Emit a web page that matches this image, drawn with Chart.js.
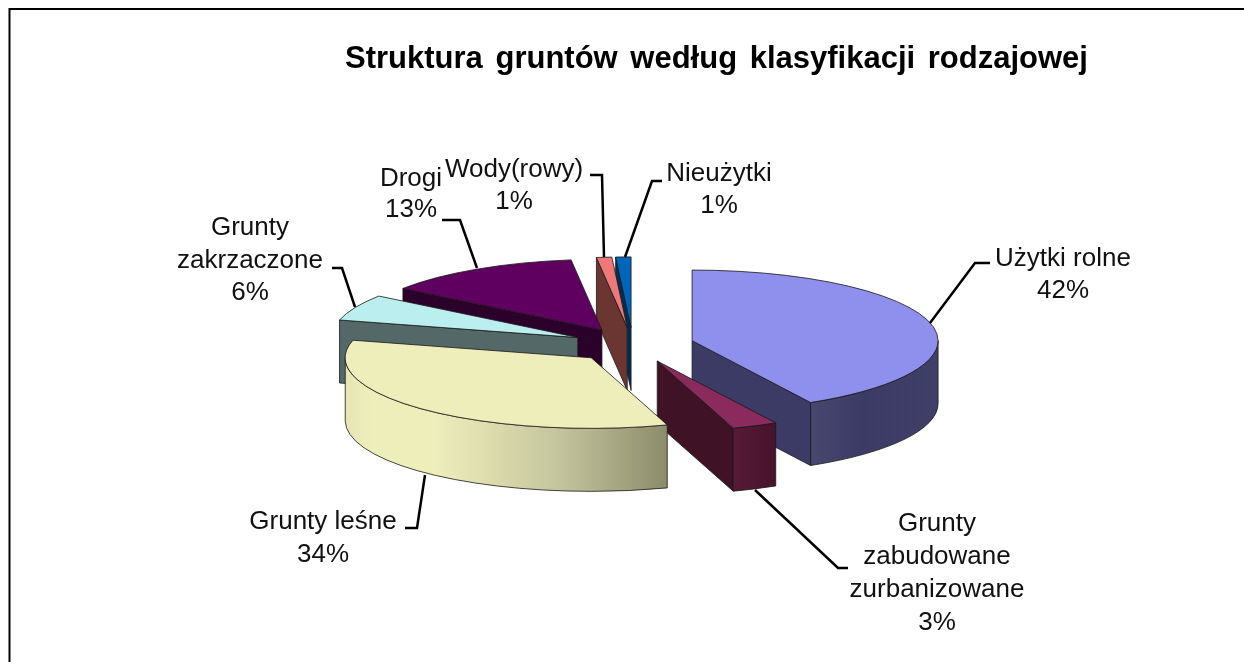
<!DOCTYPE html>
<html><head><meta charset="utf-8">
<style>html,body{margin:0;padding:0;background:#fff}canvas{display:block}</style>
<script src="https://cdn.jsdelivr.net/npm/chart.js@4"></script>
</head><body><canvas id="c" width="1244" height="662"></canvas>
<script>
const titleText = "Struktura gruntów według klasyfikacji rodzajowej";
const categories = ["Użytki rolne","Grunty zabudowane zurbanizowane","Grunty leśne","Grunty zakrzaczone","Drogi","Wody(rowy)","Nieużytki"];
const shares = [42,3,34,6,13,1,1];
const labelLines = [["Użytki rolne"],["Grunty","zabudowane","zurbanizowane"],["Grunty leśne"],["Grunty","zakrzaczone"],["Drogi"],["Wody(rowy)"],["Nieużytki"]];
const topColors = ["#8f8fee","#8b2a5c","#eeeebb","#bbeeee","#5f0060","#ee7777","#0066bb"];
const wallColors = ["#3b3b66","#3f1325","#8c8c6c","#556868","#2b002b","#6b3632","#002f55"];
const rimStops = {
  0:[[0,"#47476f"],[.4,"#3b3b66"],[1,"#3f3f68"]],
  1:[[0,"#581a38"],[1,"#47132b"]],
  2:[[0,"#e6e5b5"],[.08,"#eeeebb"],[.28,"#eeeebb"],[.65,"#c6c69e"],[1,"#8c8c6c"]]
};
const paintOrder = [6,5,4,3,0,1,2];
const tilt = 0.287, explode = 61, depth = 63;
const labelLayout = [
  {x:1063,y:266,pitch:32,line:[[990,263],[975,263],[930,323]]},
  {x:937,y:531,pitch:33,line:[[755,490],[838,568],[848,568]]},
  {x:323,y:529,pitch:33,line:[[405,528],[417,528],[425,475]]},
  {x:250,y:235,pitch:32.5,line:[[332,268],[342,268],[355,307]]},
  {x:411,y:186,pitch:31,line:[[442,220],[460,220],[477,268]]},
  {x:514,y:177,pitch:32,line:[[590,175],[602,175],[604,257]]},
  {x:719,y:181,pitch:32,line:[[662,181],[652,181],[625,257]]}
];

const pie3d = {
  id:"pie3d",
  beforeDatasetDraw(chart,args){
    const ctx = chart.ctx, arcs = args.meta.data;
    paintOrder.forEach(i=>{
      const arc = arcs[i], s = arc.startAngle, e = arc.endAngle, r = arc.outerRadius;
      const mid = (s+e)/2;
      const ox = arc.x + explode*Math.cos(mid), oy = arc.y + explode*Math.sin(mid)*tilt;
      const P = a=>[ox+r*Math.cos(a), oy+r*tilt*Math.sin(a)];
      const quad = a=>{
        const p = P(a);
        ctx.beginPath();ctx.moveTo(ox,oy);ctx.lineTo(p[0],p[1]);ctx.lineTo(p[0],p[1]+depth);ctx.lineTo(ox,oy+depth);ctx.closePath();
        ctx.fillStyle = wallColors[i];ctx.fill();ctx.stroke();
      };
      ctx.save();
      ctx.lineWidth = 1;ctx.strokeStyle = "rgba(25,25,25,.8)";
      // cut faces turned toward the viewer
      const th = a=>a+Math.PI/2;
      if (Math.sin(th(s))<0) quad(s);
      if (Math.sin(th(e))>0) quad(e);
      // outer rim
      const a1 = Math.max(s,0), a2 = Math.min(e,Math.PI);
      if (a1<a2){
        const xs=[P(a1)[0],P(a2)[0]];
        if (a1<=0) xs.push(ox+r);
        const g = ctx.createLinearGradient(Math.min(...xs),0,Math.max(...xs),0);
        const stops = rimStops[i]||[[0,wallColors[i]],[1,wallColors[i]]];
        stops.forEach(st=>g.addColorStop(st[0],st[1]));
        ctx.beginPath();
        ctx.ellipse(ox,oy,r,r*tilt,0,a1,a2);
        ctx.ellipse(ox,oy+depth,r,r*tilt,0,a2,a1,true);
        ctx.closePath();ctx.fillStyle=g;ctx.fill();ctx.stroke();
      }
      // top face: the library's own arc, squashed and moved out
      ctx.save();
      ctx.translate(ox,oy);ctx.scale(1,tilt);ctx.translate(-arc.x,-arc.y);
      arc.draw(ctx);
      ctx.restore();
      ctx.beginPath();ctx.moveTo(ox,oy);ctx.ellipse(ox,oy,r,r*tilt,0,s,e);ctx.closePath();ctx.stroke();
      ctx.restore();
    });
    return false;
  },
  afterDraw(chart){
    const ctx = chart.ctx;
    ctx.save();
    ctx.strokeStyle="#000";ctx.lineWidth=2;
    ctx.beginPath();ctx.moveTo(9.5,662);ctx.lineTo(9.5,9);ctx.lineTo(1244,9);ctx.stroke();
    ctx.fillStyle="#000";ctx.textAlign="center";ctx.textBaseline="alphabetic";
    ctx.font='bold 31px "Liberation Sans"';
    ctx.wordSpacing="4px";
    ctx.fillText(titleText,716.5,68);
    ctx.wordSpacing="0px";
    ctx.fillStyle="#111";
    ctx.font='26px "Liberation Sans"';
    labelLayout.forEach((l,i)=>{
      const lines=[...labelLines[i],shares[i]+"%"];
      lines.forEach((t,j)=>ctx.fillText(t,l.x,l.y+j*l.pitch));
      ctx.lineWidth=2.5;ctx.strokeStyle="#000";ctx.lineJoin="miter";
      ctx.beginPath();l.line.forEach((p,j)=>j?ctx.lineTo(p[0],p[1]):ctx.moveTo(p[0],p[1]));ctx.stroke();
    });
    ctx.restore();
  }
};

new Chart(document.getElementById("c"),{
  type:"pie",
  data:{labels:categories,datasets:[{data:shares,backgroundColor:topColors,borderWidth:0,radius:246}]},
  options:{responsive:false,animation:false,events:[],
    layout:{padding:{left:22,right:0,top:28,bottom:0},autoPadding:false},
    plugins:{legend:{display:false},tooltip:{enabled:false},title:{display:false}}},
  plugins:[pie3d]
});
</script></body></html>
